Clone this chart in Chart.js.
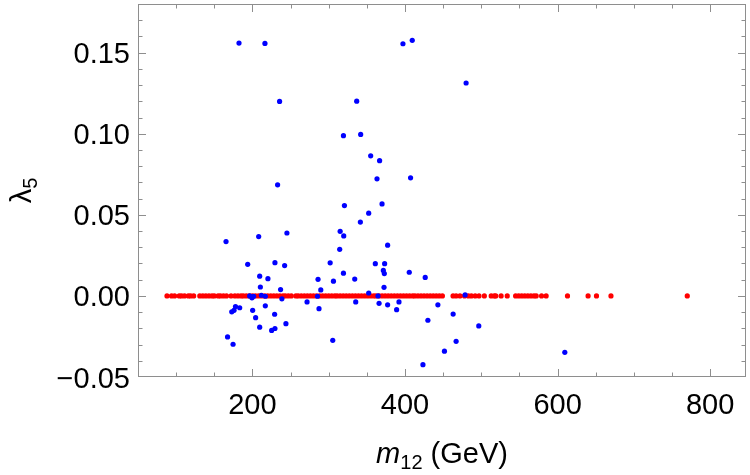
<!doctype html>
<html lang="en">
<head>
    <meta charset="utf-8">
    <title>lambda5 vs m12</title>
    <script src="https://cdn.jsdelivr.net/npm/chart.js@4.4.1/dist/chart.umd.min.js"></script>
    <style>
        body { margin: 0; background: #fff; }
    </style>
</head>
<body>
<canvas id="myChart" width="750" height="475"></canvas>
<script type="text/javascript">
    // blue points (m12 in GeV, lambda5)
    const blueM12 = [
        182.4, 216.4, 235.6, 319.3, 397.3, 409.5, 480.1, 336.7, 341.9, 355,
        366.7, 233, 320.6, 165.4, 208.2, 245.2, 315, 319.7, 314.4, 363.3,
        407.3, 369.9, 352.4, 341.5, 377.2, 193.8, 229.5, 242.2, 209.5, 220.3,
        210.4, 236.9, 211.7, 196.4, 199.4, 201.6, 216.9, 238.6, 286, 285.3,
        287.3, 271.6, 177.8, 183.3, 172.9, 175.9, 200.3, 216.9, 229.1, 243.9,
        204.2, 209.5, 225.2, 229.5, 167.4, 174.6, 301.9, 361.1, 373.3, 319.3,
        371.6, 372.9, 405.6, 426.5, 306.2, 334.1, 289.6, 372.5, 352.4, 364.6,
        478.8, 335.4, 366, 377.2, 392.1, 443.1, 389, 463.1, 430, 496.7,
        305.3, 467, 451.7, 423.5, 609.5
    ]
    const blueLambda5 = [
        0.1559, 0.1557, 0.1199, 0.0988, 0.1555, 0.1576, 0.1313, 0.1201, 0.0996, 0.0864,
        0.0834, 0.0685, 0.0557, 0.0335, 0.0366, 0.0388, 0.0398, 0.0370, 0.0287, 0.0722,
        0.0728, 0.0567, 0.0510, 0.0455, 0.0313, 0.0195, 0.0205, 0.0187, 0.0122, 0.0106,
        0.0055, 0.0039, 0.0004, 0.0000, -0.0012, -0.0002, -0.0002, -0.0018, 0.0102, -0.0002,
        -0.0079, -0.0037, -0.0066, -0.0073, -0.0098, -0.0089, -0.0089, -0.0061, -0.0113, -0.0171,
        -0.0134, -0.0193, -0.0213, -0.0201, -0.0253, -0.0298, 0.0204, 0.0199, 0.0199, 0.0140,
        0.0157, 0.0138, 0.0146, 0.0114, 0.0091, 0.0104, 0.0037, 0.0053, 0.0018, 0.0000,
        0.0006, -0.0037, -0.0046, -0.0055, -0.0037, -0.0055, -0.0085, -0.0112, -0.0150, -0.0185,
        -0.0274, -0.0280, -0.0341, -0.0424, -0.0348
    ]
    // red points all sit on lambda5 = 0
    const redM12 = [
        88, 94, 98, 104, 107, 111, 116, 119, 123, 131, 135, 139, 143, 147, 150,
        155, 158, 162, 166, 172, 177, 181, 185, 188, 192, 196, 200, 204, 208, 212,
        216, 220, 224, 228, 232, 236, 240, 243, 247, 251, 257, 260, 264, 268, 272,
        276, 280, 284, 288, 292, 296, 300, 304, 308, 311, 315, 319, 323, 327, 331,
        335, 339, 343, 347, 351, 355, 359, 362, 366, 370, 374, 378, 382, 386, 390,
        394, 398, 402, 406, 410, 413, 417, 421, 425, 429, 433, 437, 441, 445, 449,
        463, 467, 472, 478, 483, 487, 492, 497, 504, 513, 517, 519, 526, 534, 545,
        549, 553, 557, 561, 565, 569, 572, 579, 585, 613, 640, 651, 670, 770
    ]
    const redLambda5 = redM12.map(() => 0)

    const xTicks = [200, 400, 600, 800]
    const xTickLabels = ['200', '400', '600', '800']
    const yTicks = [-0.05, 0, 0.05, 0.10, 0.15]
    const yTickLabels = ['\u22120.05', '0.00', '0.05', '0.10', '0.15']

    const FONT = '"Liberation Sans", Arial, Helvetica, sans-serif'

    // Mathematica-like frame: inward ticks on all four sides, labels drawn by hand
    const framePlugin = {
        id: 'frame',
        beforeDatasetsDraw(chart) {
            const {ctx, chartArea: a, scales: {x, y}} = chart
            ctx.save()
            ctx.strokeStyle = '#8e8e8e'
            ctx.lineWidth = 1
            ctx.strokeRect(Math.round(a.left) + 0.5, Math.round(a.top) + 0.5,
                Math.round(a.right - a.left) - 1, Math.round(a.bottom - a.top) - 1)
            ctx.beginPath()
            for (let v = 100; v <= 800; v += 50) {
                const px = Math.round(x.getPixelForValue(v)) + 0.5
                const len = v % 200 === 0 ? 8 : 4.5
                ctx.moveTo(px, a.bottom); ctx.lineTo(px, a.bottom - len)
                ctx.moveTo(px, a.top); ctx.lineTo(px, a.top + len)
            }
            for (let k = -4; k <= 17; k++) {
                const v = k / 100
                const py = Math.round(y.getPixelForValue(v)) + 0.5
                const len = k % 5 === 0 ? 8 : 4.5
                ctx.moveTo(a.left, py); ctx.lineTo(a.left + len, py)
                ctx.moveTo(a.right, py); ctx.lineTo(a.right - len, py)
            }
            ctx.stroke()

            ctx.fillStyle = '#000'
            ctx.font = '29px ' + FONT
            ctx.textBaseline = 'alphabetic'
            ctx.textAlign = 'center'
            xTicks.forEach((v, i) => {
                ctx.fillText(xTickLabels[i], x.getPixelForValue(v), a.bottom + 37)
            })
            ctx.textAlign = 'right'
            yTicks.forEach((v, i) => {
                ctx.fillText(yTickLabels[i], a.left - 8, y.getPixelForValue(v) + 10.5)
            })

            // x title: m_12 (GeV)
            ctx.textAlign = 'left'
            const big = '29px ' + FONT, it = 'italic 29px ' + FONT, sub = '20px ' + FONT
            ctx.font = it; const w1 = ctx.measureText('m').width
            ctx.font = sub; const w2 = ctx.measureText('12').width
            ctx.font = big; const w3 = ctx.measureText(' (GeV)').width
            let sx = (a.left + a.right) / 2 - (w1 + w2 + w3) / 2
            const by = 463
            ctx.font = it; ctx.fillText('m', sx, by); sx += w1
            ctx.font = sub; ctx.fillText('12', sx, by + 6); sx += w2
            ctx.font = big; ctx.fillText(' (GeV)', sx, by)

            // y title: lambda_5
            ctx.translate(31, (a.top + a.bottom) / 2)
            ctx.rotate(-Math.PI / 2)
            ctx.font = big; const l1 = ctx.measureText('\u03bb').width
            ctx.font = sub; const l2 = ctx.measureText('5').width
            let ty = -(l1 + l2) / 2
            ctx.font = big; ctx.fillText('\u03bb', ty, 0); ty += l1
            ctx.font = sub; ctx.fillText('5', ty, 6)
            ctx.restore()
        }
    }

    const blueData = blueM12.map((v, i) => ({x: v, y: blueLambda5[i]}))
    const redData = redM12.map((v, i) => ({x: v, y: redLambda5[i]}))

    const ctx = document.getElementById('myChart')
    const myChart = new Chart(ctx, {
        type: 'scatter',
        data: {
            datasets: [
                {label: 'blue', data: blueData, backgroundColor: '#0000ff', borderWidth: 0, pointRadius: 2.6},
                {label: 'red', data: redData, backgroundColor: '#ff0000', borderWidth: 0, pointRadius: 2.6}
            ]
        },
        options: {
            responsive: false,
            animation: false,
            devicePixelRatio: 1,
            layout: {padding: {left: 0, right: 2, top: 0, bottom: 0}},
            plugins: {legend: {display: false}, tooltip: {enabled: false}},
            scales: {
                x: {
                    type: 'linear', min: 50, max: 847,
                    grid: {display: false, drawTicks: false},
                    border: {display: false},
                    ticks: {display: false},
                    afterFit: (s) => { s.height = 98 }
                },
                y: {
                    type: 'linear', min: -0.05, max: 0.18,
                    grid: {display: false, drawTicks: false},
                    border: {display: false},
                    ticks: {display: false},
                    afterFit: (s) => { s.width = 138 }
                }
            }
        },
        plugins: [framePlugin]
    })
</script>
</body>
</html>
